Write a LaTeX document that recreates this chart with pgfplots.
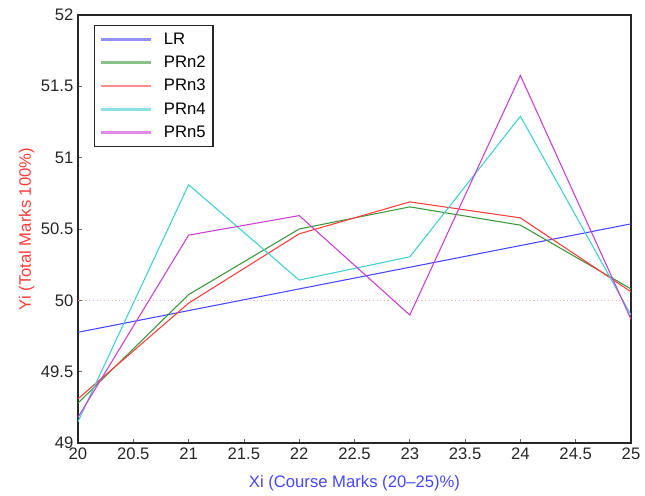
\documentclass[border=0pt]{standalone}
\usepackage{fontspec}
\setmainfont{Liberation Sans}
\usepackage{pgfplots}
\pgfplotsset{compat=1.18}

\definecolor{lrblue}{RGB}{70,70,255}
\definecolor{prgreen}{RGB}{60,150,60}
\definecolor{prred}{RGB}{255,60,60}
\definecolor{prcyan}{RGB}{64,208,208}
\definecolor{prmag}{RGB}{200,64,210}
\definecolor{refpink}{RGB}{255,175,175}

\begin{document}
\begin{tikzpicture}
\begin{axis}[name=ax,
scale only axis,width=414.75pt,height=321pt,
xmin=20,xmax=25,ymin=49,ymax=52,
xtick={20,20.5,...,25},ytick={49,49.5,...,52},
/pgf/number format/assume math mode=true,
/pgf/number format/fixed,
font=\fontsize{12.5}{15}\selectfont,
tick label style={black!85},
tick align=inside,xtick pos=bottom,ytick pos=left,
major tick length=3pt,
tick style={black!60,line width=0.6pt},
axis line style={black!85,line width=0.9pt},
xlabel={Xi (Course Marks (20–25)\%)},
ylabel={Yi (Total Marks 100\%)},
xlabel style={lrblue,yshift=-5pt},
ylabel style={prred,yshift=-2pt},
legend style={at={(0.029,0.977)},anchor=north west,draw=black!85,line width=0.9pt,
  font=\fontsize{12.5}{15}\selectfont,row sep=4.3pt,inner xsep=4pt,inner ysep=4pt,
  nodes={inner sep=1.5pt},
  /tikz/every odd column/.append style={column sep=7pt}},
legend cell align=left,
legend image code/.code={\draw[#1,line width=2pt,opacity=0.6] (0pt,0pt) -- (37.5pt,0pt);},
every axis plot/.append style={line width=0.8pt},
]
\addplot[draw=refpink,dotted,line width=0.9pt,forget plot] coordinates {(20,50) (25,50)};
\addplot[draw=lrblue] coordinates {(20,49.776) (21,49.928) (22,50.08) (23,50.232) (24,50.384) (25,50.536)};
\addlegendentry{LR}
\addplot[draw=prgreen] coordinates {(20,49.28) (21,50.04) (22,50.50) (23,50.655) (24,50.527) (25,50.08)};
\addlegendentry{PRn2}
\addplot[draw=prred] coordinates {(20,49.31) (21,49.98) (22,50.466) (23,50.69) (24,50.578) (25,50.06)};
\addlegendentry{PRn3}
\addplot[draw=prcyan] coordinates {(20,49.15) (21,50.81) (22,50.142) (23,50.305) (24,51.29) (25,49.897)};
\addlegendentry{PRn4}
\addplot[draw=prmag] coordinates {(20,49.18) (21,50.457) (22,50.594) (23,49.897) (24,51.576) (25,49.867)};
\addlegendentry{PRn5}
\end{axis}
\path ([xshift=-58.5pt,yshift=-33.75pt]ax.south west) rectangle ([xshift=10.5pt,yshift=11.25pt]ax.north east);
\end{tikzpicture}
\end{document}
